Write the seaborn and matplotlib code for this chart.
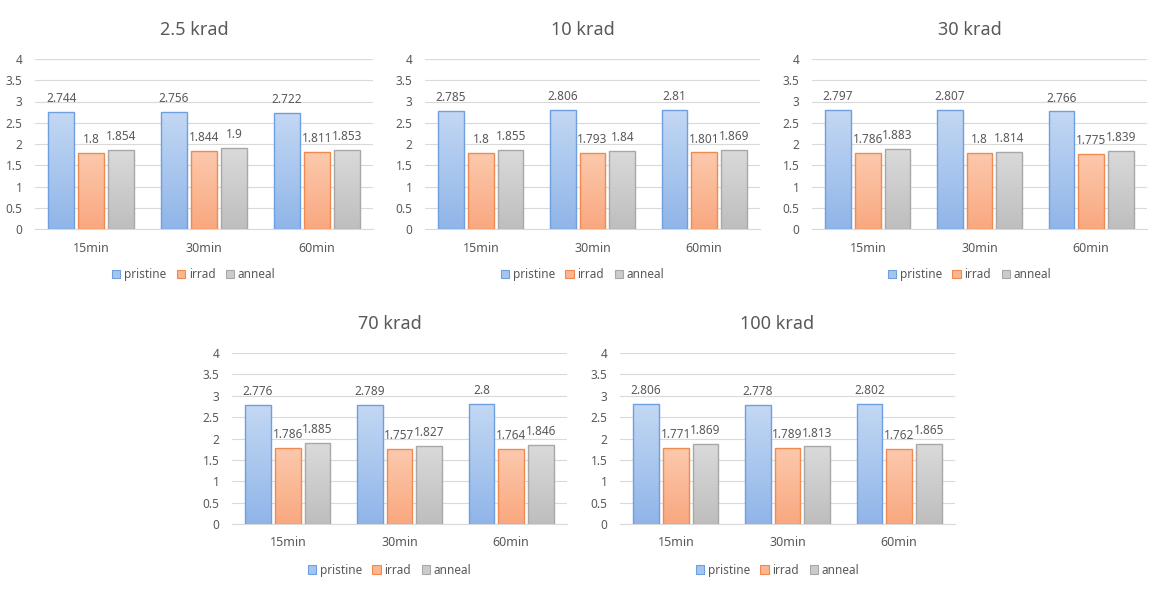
import numpy as np
import pandas as pd
import matplotlib
matplotlib.use("Agg")
import matplotlib.pyplot as plt
from matplotlib.colors import LinearSegmentedColormap
from matplotlib.patches import Patch
import seaborn as sns

sns.set_theme(style="white")
plt.rcParams['font.family'] = ['Noto Sans', 'DejaVu Sans']

# ---- data ----
times = ["15min", "30min", "60min"]
series = ["pristine", "irrad", "anneal"]
titles = ["2.5 krad", "10 krad", "30 krad", "70 krad", "100 krad"]

pristine_25 = [2.744, 2.756, 2.722]
irrad_25 = [1.8, 1.844, 1.811]
anneal_25 = [1.854, 1.9, 1.853]

pristine_10 = [2.785, 2.806, 2.81]
irrad_10 = [1.8, 1.793, 1.801]
anneal_10 = [1.855, 1.84, 1.869]

pristine_30 = [2.797, 2.807, 2.766]
irrad_30 = [1.786, 1.8, 1.775]
anneal_30 = [1.883, 1.814, 1.839]

pristine_70 = [2.776, 2.789, 2.8]
irrad_70 = [1.786, 1.757, 1.764]
anneal_70 = [1.885, 1.827, 1.846]

pristine_100 = [2.806, 2.778, 2.802]
irrad_100 = [1.771, 1.789, 1.762]
anneal_100 = [1.869, 1.813, 1.865]

yticks = [0, 0.5, 1, 1.5, 2, 2.5, 3, 3.5, 4]
ytick_labels = ["0", "0.5", "1", "1.5", "2", "2.5", "3", "3.5", "4"]

panels = [
    (pristine_25, irrad_25, anneal_25),
    (pristine_10, irrad_10, anneal_10),
    (pristine_30, irrad_30, anneal_30),
    (pristine_70, irrad_70, anneal_70),
    (pristine_100, irrad_100, anneal_100),
]

# ---- style ----
edge_colors = ["#6e9fe0", "#f08a50", "#a8a8a8"]
grad_top = ["#c3d8f3", "#fcc9ad", "#dadada"]
grad_bot = ["#90b5e9", "#f9a87f", "#bebebe"]
mid_colors = ["#a6c5ee", "#f9b690", "#cbcbcb"]
text_color = "#595959"
grid_color = "#d9d9d9"

W, H = 1164, 589
fig = plt.figure(figsize=(W / 100, H / 100), dpi=100)

# axes pixel boxes: (left, top, right, bottom)
boxes = [
    (35, 59, 373, 229),
    (425, 59, 760, 229),
    (812, 59, 1147, 229),
    (232, 353, 567, 524),
    (620, 353, 955, 524),
]

for (vals, title, box) in zip(panels, titles, boxes):
    l, t, r, b = box
    ax = fig.add_axes([l / W, 1 - b / H, (r - l) / W, (b - t) / H])
    df = pd.DataFrame({
        "time": times * 3,
        "series": [s for s in series for _ in times],
        "value": list(vals[0]) + list(vals[1]) + list(vals[2]),
    })
    sns.barplot(data=df, x="time", y="value", hue="series", order=times,
                hue_order=series, palette=mid_colors, width=0.8, gap=0.14,
                ax=ax, legend=False, errorbar=None, zorder=3)
    for i, cont in enumerate(ax.containers):
        cmap = LinearSegmentedColormap.from_list("g%d" % i, [grad_bot[i], grad_top[i]])
        for bar in cont:
            bar.set_edgecolor(edge_colors[i])
            bar.set_linewidth(1.0)
            bar.set_facecolor("none")
            bar.set_zorder(4)
            x0 = bar.get_x()
            w = bar.get_width()
            h = bar.get_height()
            grad = np.linspace(0, 1, 256).reshape(-1, 1)
            im = ax.imshow(grad, cmap=cmap, origin="lower", aspect="auto",
                           extent=[x0, x0 + w, 0, h], zorder=3)
            im.set_clip_path(bar)
        ax.bar_label(cont, labels=[f"{v:g}" for v in cont.datavalues],
                     padding=5, fontsize=8.5, color=text_color)
    ax.set_xlim(-0.5, 2.5)
    ax.set_ylim(0, 4)
    ax.set_yticks(yticks)
    ax.set_yticklabels(ytick_labels)
    ax.set_xlabel("")
    ax.set_ylabel("")
    ax.yaxis.grid(True, color=grid_color, linewidth=0.8, zorder=0)
    ax.set_axisbelow(True)
    for s in ["top", "right", "left"]:
        ax.spines[s].set_visible(False)
    ax.spines["bottom"].set_color(grid_color)
    ax.spines["bottom"].set_linewidth(0.8)
    ax.tick_params(axis="both", length=0, labelsize=8.5, labelcolor=text_color)
    ax.tick_params(axis="y", pad=9)
    ax.tick_params(axis="x", pad=9, labelsize=9)
    ax.set_title(title, fontsize=13, color=text_color, pad=17, x=0.47)
    handles = [Patch(facecolor=mid_colors[i], edgecolor=edge_colors[i], linewidth=0.8)
               for i in range(3)]
    ax.legend(handles, series, loc="center", bbox_to_anchor=(0.47, -0.27),
              ncol=3, frameon=False, fontsize=8.5, labelcolor=text_color,
              handlelength=0.7, handleheight=0.7, handletextpad=0.3,
              columnspacing=0.9)

fig.savefig("out.png", dpi=100)
